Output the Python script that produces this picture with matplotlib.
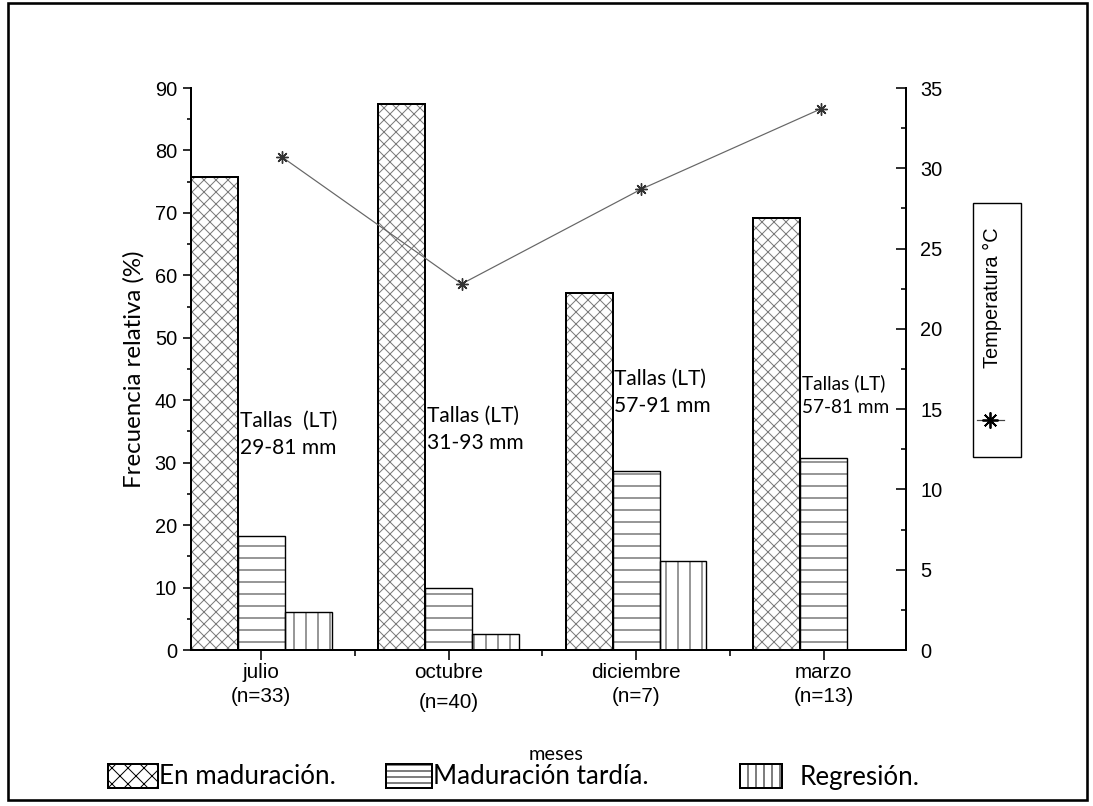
import matplotlib
matplotlib.use("Agg")
import matplotlib.pyplot as plt
from matplotlib.patches import Rectangle
from matplotlib.lines import Line2D
from matplotlib.ticker import MultipleLocator, FixedLocator

# ---- data ----
meses = ["julio", "octubre", "diciembre", "marzo"]
n_muestras = ["(n=33)", "(n=40)", "(n=7)", "(n=13)"]
en_maduracion = [75.8, 87.5, 57.1, 69.2]
maduracion_tardia = [18.2, 10.0, 28.6, 30.8]
regresion = [6.1, 2.5, 14.3, 0.0]
temperatura = [30.7, 22.8, 28.7, 33.7]
tallas = ["Tallas  (LT)\n29-81 mm", "Tallas (LT)\n31-93 mm",
          "Tallas (LT)\n57-91 mm", "Tallas (LT)\n57-81 mm"]

W, H, DPI = 1093, 806, 144
TXT = ["Lato", "DejaVu Sans"]
NUM = ["Liberation Sans", "DejaVu Sans"]

plt.rcParams["hatch.linewidth"] = 0.5
fig = plt.figure(figsize=(W / DPI, H / DPI), dpi=DPI)


def fx(x):
    return x / W


def fy(y):
    return 1 - y / H


# main axes (pixel box)
L, R, T, B = 191, 906, 88, 650
rect = [fx(L), fy(B), fx(R) - fx(L), fy(T) - fy(B)]
ax = fig.add_axes(rect)

xs = list(range(len(meses)))
w = 0.25
groups = [
    (en_maduracion, "xxxx", -w, 1.0, "#7a7a7a"),
    (maduracion_tardia, "--", 0.0, 0.7, "#333333"),
    (regresion, "||", w, 0.7, "#333333"),
]
for vals, hatch, off, lw, hc in groups:
    pos = [x + off for x in xs]
    ax.bar(pos, vals, width=w, color="white", edgecolor=hc, hatch=hatch,
           linewidth=0, zorder=2)
    ax.bar(pos, vals, width=w, fill=False, edgecolor="black",
           linewidth=lw, zorder=3)

ax.set_ylim(0, 90)
ax.set_xlim(-1.5 * w, 3.44)
ax.yaxis.set_major_locator(MultipleLocator(10))
ax.yaxis.set_minor_locator(MultipleLocator(5))
ax.xaxis.set_major_locator(FixedLocator(xs))
ax.xaxis.set_minor_locator(FixedLocator([x + 0.5 for x in xs]))
ax.set_xticklabels([])
ax.tick_params(axis="y", which="major", direction="out", length=4, width=0.8,
               labelsize=10, pad=3)
ax.tick_params(axis="y", which="minor", direction="out", length=2, width=0.8)
ax.tick_params(axis="x", which="major", direction="out", length=5, width=0.8)
ax.tick_params(axis="x", which="minor", direction="out", length=3, width=0.8)
for lab in ax.get_yticklabels():
    lab.set_family(NUM)
for s in ["top", "right"]:
    ax.spines[s].set_visible(False)
for s in ["left", "bottom"]:
    ax.spines[s].set_linewidth(1.0)

# month labels under the axis
for i, (m, n) in enumerate(zip(meses, n_muestras)):
    ax.annotate(m, xy=(i, 0), xycoords="data", xytext=(0, -11.5),
                textcoords="offset points", ha="center", va="center",
                fontsize=10.3, family=NUM)
    ax.annotate(n, xy=(i, 0), xycoords="data",
                xytext=(0, -23.5 if i != 1 else -26),
                textcoords="offset points", ha="center", va="center",
                fontsize=10.3, family=NUM)

ax.set_ylabel("Frecuencia relativa (%)", fontsize=12, family=TXT, labelpad=5)

# size range notes beside each group
note_pos = [(240, 434, 10.5), (427, 429, 10.5), (614, 392, 10.5), (802, 395, 9.5)]
for txt, (px, py, fs) in zip(tallas, note_pos):
    fig.text(fx(px), fy(py), txt, ha="left", va="center", fontsize=fs,
             family=TXT, linespacing=1.45)

# temperature layer with its own scale on the right
ax2 = fig.add_axes(rect)
ax2.patch.set_visible(False)
for s in ["left", "top", "bottom"]:
    ax2.spines[s].set_visible(False)
ax2.spines["right"].set_linewidth(1.0)
ax2.set_xlim(-0.507, 3.474)
ax2.set_ylim(0, 35)
ax2.plot(xs, temperatura, color="#666666", linewidth=0.6,
         marker=(8, 2, 0), markersize=6, markeredgecolor="#333333",
         markeredgewidth=0.7)
ax2.xaxis.set_visible(False)
ax2.yaxis.tick_right()
ax2.yaxis.set_major_locator(MultipleLocator(5))
ax2.yaxis.set_minor_locator(MultipleLocator(2.5))
ax2.tick_params(axis="y", which="major", direction="in", length=5, width=0.8,
                labelsize=10, pad=7)
ax2.tick_params(axis="y", which="minor", direction="in", length=2.5, width=0.8)
for lab in ax2.get_yticklabels():
    lab.set_family(NUM)

# legend box for the temperature series
fig.add_artist(Rectangle((fx(973), fy(457)), fx(1021) - fx(973),
                         fy(203) - fy(457), transform=fig.transFigure,
                         fill=False, edgecolor="black", linewidth=0.7))
fig.text(fx(992), fy(298), "Temperatura °C", rotation=90, ha="center",
         va="center", fontsize=10, family=NUM)
fig.add_artist(Line2D([fx(977), fx(1004)], [fy(420), fy(420)],
                      transform=fig.transFigure, color="#444444",
                      linewidth=0.6))
fig.add_artist(Line2D([fx(990)], [fy(420)], transform=fig.transFigure,
                      marker=(8, 2, 0), markersize=8, color="black",
                      markeredgewidth=0.9))

# bottom legend for the bar series
fig.text(fx(556), fy(754), "meses", ha="center", va="center", fontsize=10,
         family=TXT)
legend_items = [
    ((108, 158), "xxx", "En maduración.", 159),
    ((386, 432), "----", "Maduración tardía.", 433),
    ((740, 782), "|||", "Regresión.", 800),
]
for (x0, x1), hatch, label, tx in legend_items:
    fig.add_artist(Rectangle((fx(x0), fy(788)), fx(x1) - fx(x0),
                             fy(764) - fy(788), transform=fig.transFigure,
                             facecolor="white", edgecolor="black",
                             hatch=hatch, linewidth=1.0))
    fig.text(fx(tx), fy(777), label, ha="left", va="center", fontsize=13,
             family=TXT)

# outer frame
fig.add_artist(Rectangle((fx(8), fy(800)), fx(1087) - fx(8), fy(3) - fy(800),
                         transform=fig.transFigure, fill=False,
                         edgecolor="black", linewidth=1.3))

fig.savefig("out.png", dpi=DPI)
